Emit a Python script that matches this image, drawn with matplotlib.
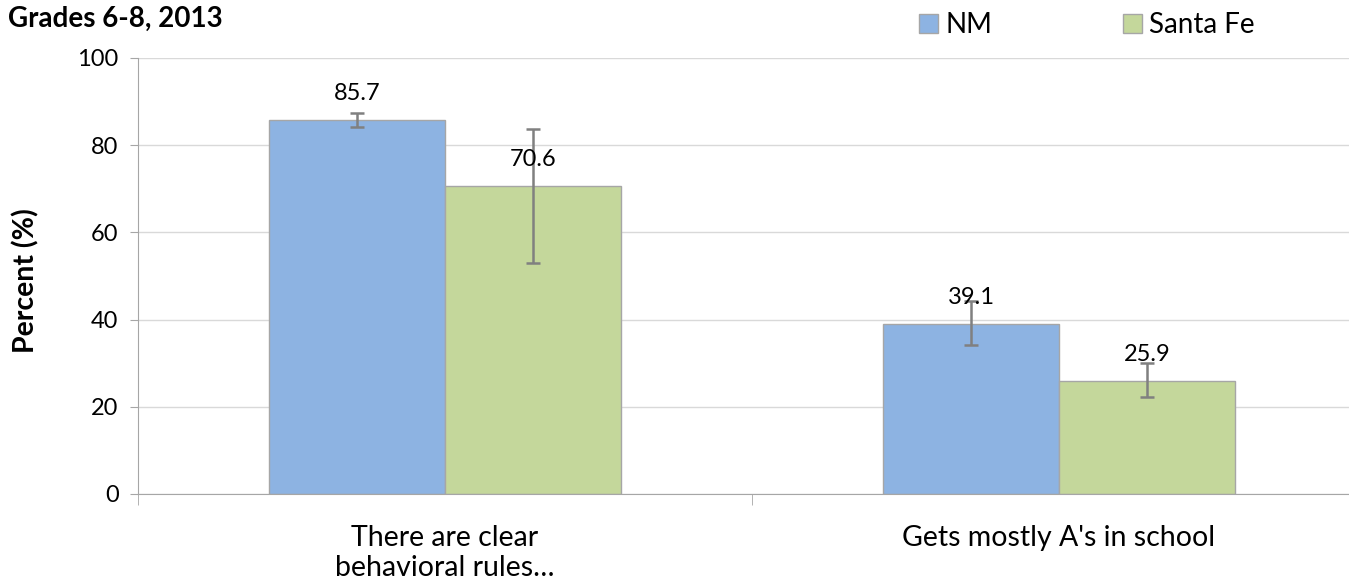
import matplotlib
matplotlib.use("Agg")
import matplotlib.pyplot as plt
import numpy as np

plt.rcParams['font.family'] = ['Lato', 'DejaVu Sans']

# data
categories = ["There are clear\nbehavioral rules\u2026", "Gets mostly A's in school"]
series_names = ["NM", "Santa Fe"]
nm_values = [85.7, 39.1]
sf_values = [70.6, 25.9]
# confidence intervals (lower, upper)
nm_lower = [84.2, 34.2]
nm_upper = [87.4, 44.3]
sf_lower = [53.0, 22.3]
sf_upper = [83.8, 30.0]

colors = ["#8DB3E2", "#C4D79B"]
edge = "#A6A6A6"
err_color = "#808080"

fig = plt.figure(figsize=(13.49, 5.88), dpi=100)
ax = fig.add_axes([138/1349, 1 - 494/588, 1228/1349, (494 - 58)/588])

x = np.arange(len(categories))
w = 0.286

for i, (vals, lo, hi) in enumerate([(nm_values, nm_lower, nm_upper),
                                     (sf_values, sf_lower, sf_upper)]):
    pos = x + (i - 0.5) * w
    vals = np.array(vals)
    yerr = np.vstack([vals - np.array(lo), np.array(hi) - vals])
    ax.bar(pos, vals, w, color=colors[i], edgecolor=edge, linewidth=1,
           label=series_names[i], zorder=2)
    ax.errorbar(pos, vals, yerr=yerr, fmt='none', ecolor=err_color,
                elinewidth=1.8, capsize=5, capthick=1.8, zorder=3)
    for p, v in zip(pos, vals):
        ax.annotate(f"{v:.1f}", (p, v), xytext=(0, 19), textcoords='offset points',
                    ha='center', va='center', fontsize=17, zorder=4)

ax.set_xlim(-0.5, 1.5)
ax.set_ylim(0, 100)
ax.set_yticks([0, 20, 40, 60, 80, 100])
ax.yaxis.grid(True, color="#D9D9D9", linewidth=1, zorder=0)
ax.set_axisbelow(True)

ax.set_xticks(x)
ax.set_xticklabels(categories, fontsize=20.5, linespacing=1.2)
ax.set_xticks([-0.5, 0.5, 1.5], minor=True)
ax.tick_params(axis='x', which='major', length=0, pad=22)
ax.tick_params(axis='x', which='minor', length=8, color="#A6A6A6")
ax.tick_params(axis='y', labelsize=17, length=6, color="#A6A6A6", pad=8)

for s in ['top', 'right']:
    ax.spines[s].set_visible(False)
for s in ['left', 'bottom']:
    ax.spines[s].set_color("#A6A6A6")

ax.set_ylabel("Percent (%)", fontsize=20.5, fontweight='bold')
ax.yaxis.set_label_coords(-0.0806, 0.49)

fig.text(8/1349, 1 - 19/588, "Grades 6-8, 2013", fontsize=20, fontweight='bold',
         ha='left', va='center')

fig.legend(loc='upper left', bbox_to_anchor=(894/1349, 1.022), ncol=2, frameon=False,
           fontsize=20, handlelength=0.7, handleheight=0.7, handletextpad=0.25,
           columnspacing=4.7)

fig.savefig("out.png", dpi=100)
